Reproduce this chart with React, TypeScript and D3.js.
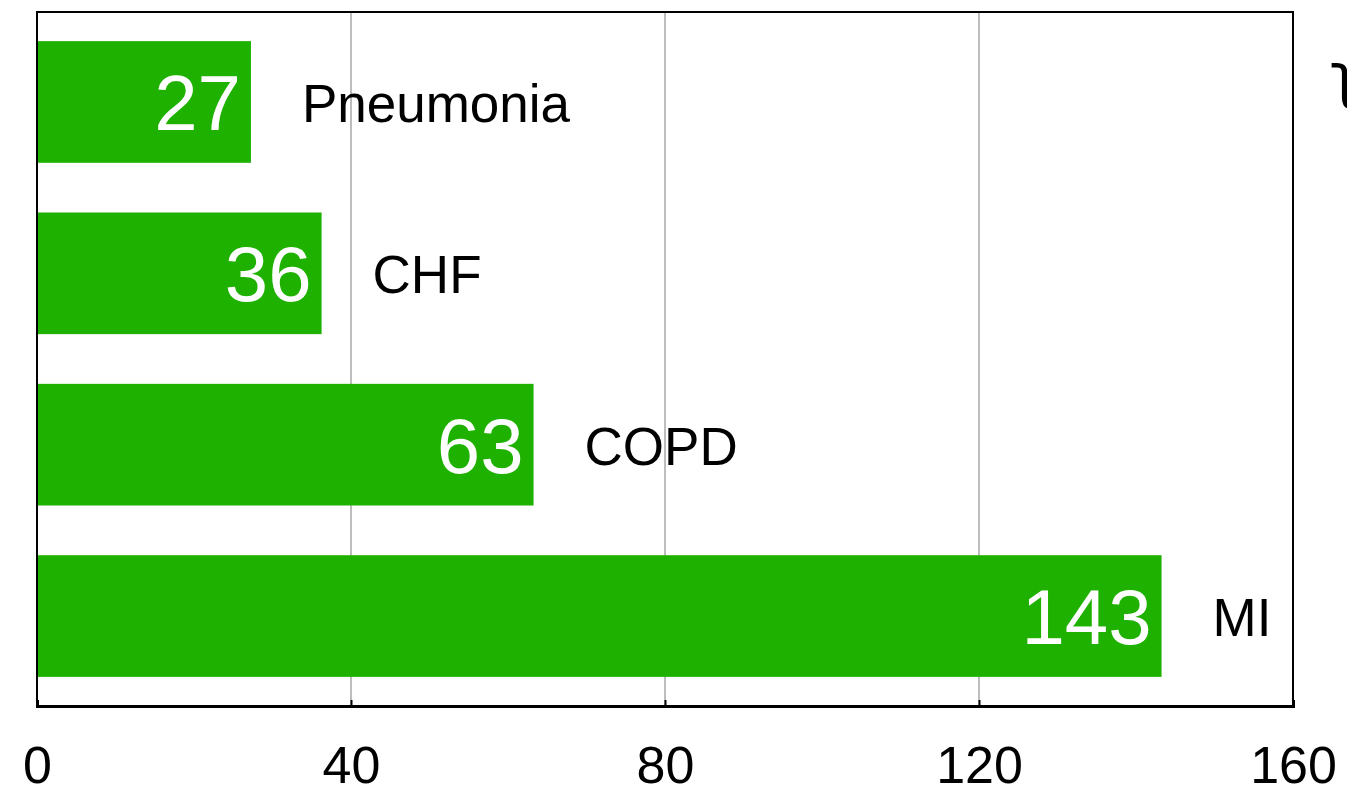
import { useEffect, useRef } from "react";
import * as d3 from "d3";

// Categories top to bottom, with their counts
const CATEGORIES = ["Pneumonia", "CHF", "COPD", "MI"];
const VALUES = [27, 36, 63, 143];
const X_TICKS = [0, 40, 80, 120, 160];

export default function App() {
  const svgRef = useRef<SVGSVGElement | null>(null);

  useEffect(() => {
    const width = 1347;
    const height = 805;
    const margin = { top: 12, right: 54, bottom: 99, left: 37 };
    const innerW = width - margin.left - margin.right;
    const innerH = height - margin.top - margin.bottom;

    const svg = d3.select(svgRef.current);
    svg.selectAll("*").remove();
    svg.attr("width", width).attr("height", height);

    const g = svg.append("g")
      .attr("transform", `translate(${margin.left},${margin.top})`);

    // ----- Scales -----
    const x = d3.scaleLinear().domain([0, 160]).range([0, innerW]);
    const y = d3.scaleBand<string>()
      .domain(CATEGORIES)
      .range([0, innerH])
      .paddingInner(0.29)
      .paddingOuter(0.17);

    // gridlines
    g.append("g")
      .selectAll("line")
      .data(X_TICKS.slice(1, -1))
      .join("line")
      .attr("x1", (d) => x(d)).attr("x2", (d) => x(d))
      .attr("y1", 0).attr("y2", innerH)
      .attr("stroke", "#bdbdbd")
      .attr("stroke-width", 2);

    // bars
    const data = CATEGORIES.map((c, i) => ({ cat: c, v: VALUES[i] }));
    g.append("g")
      .selectAll("rect")
      .data(data)
      .join("rect")
      .attr("x", x(0))
      .attr("y", (d) => y(d.cat)!)
      .attr("width", (d) => x(d.v) - x(0) + 2)
      .attr("height", y.bandwidth())
      .attr("fill", "#1eb100");

    // value labels inside bars
    g.append("g")
      .selectAll("text")
      .data(data)
      .join("text")
      .attr("x", (d) => x(d.v) - 8)
      .attr("y", (d) => y(d.cat)! + y.bandwidth() / 2 + 28)
      .attr("text-anchor", "end")
      .attr("font-family", "Liberation Sans, Arial, sans-serif")
      .attr("font-size", 78)
      .attr("fill", "#fff")
      .text((d) => d.v);

    // category labels beside bars
    g.append("g")
      .selectAll("text")
      .data(data)
      .join("text")
      .attr("x", (d) => x(d.v) + 53)
      .attr("y", (d) => y(d.cat)! + y.bandwidth() / 2 + 20)
      .attr("font-family", "Liberation Sans, Arial, sans-serif")
      .attr("font-size", 53)
      .attr("fill", "#000")
      .text((d) => d.cat);

    // frame
    g.append("rect")
      .attr("x", 0).attr("y", 0)
      .attr("width", innerW).attr("height", innerH)
      .attr("fill", "none")
      .attr("stroke", "#000")
      .attr("stroke-width", 2);

    // x axis
    const xAxis = d3.axisBottom(x)
      .tickValues(X_TICKS)
      .tickSize(-6)
      .tickPadding(40)
      .tickFormat((d) => String(d));
    const ax = g.append("g")
      .attr("transform", `translate(0,${innerH})`)
      .call(xAxis);
    ax.select(".domain").attr("stroke-width", 3);
    ax.selectAll(".tick line").attr("stroke-width", 2);
    ax.selectAll(".tick text")
      .attr("font-family", "Liberation Sans, Arial, sans-serif")
      .attr("font-size", 52)
      .attr("fill", "#000");

    // glyph partly cut by the right edge, as in the source image
    svg.append("text")
      .attr("x", 1330)
      .attr("y", 96)
      .attr("font-family", "DejaVu Sans, sans-serif")
      .attr("font-size", 60)
      .attr("fill", "#000")
      .text("ʅ");
  }, []);

  return (
    <div style={{ position: "fixed", left: 0, top: 0 }}>
      <svg ref={svgRef}></svg>
    </div>
  );
}
